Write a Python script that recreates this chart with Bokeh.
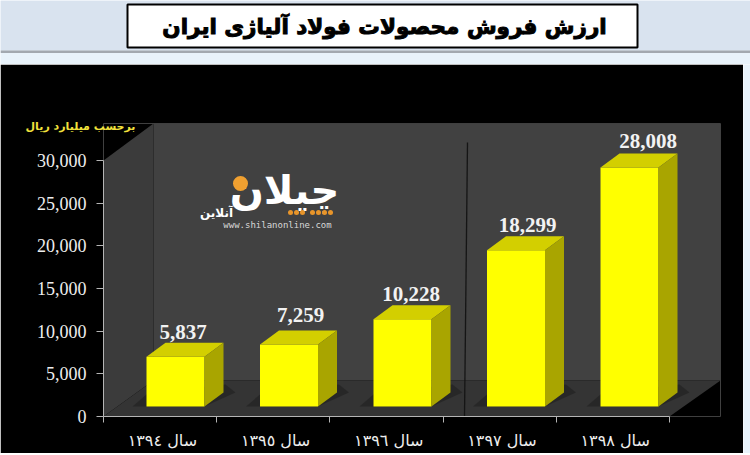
from bokeh.plotting import figure
from bokeh.layouts import column, row
from bokeh.embed import file_html
from bokeh.resources import INLINE
from bokeh.core.properties import value
from bokeh.models import Range1d, FixedTicker, NumeralTickFormatter, Label

title_text = "ارزش فروش محصولات فولاد آلیاژی ایران"
unit_text = "برحسب میلیارد ریال"
years = ["سال ١٣٩٤", "سال ١٣٩٥", "سال ١٣٩٦", "سال ١٣٩٧", "سال ١٣٩٨"]
sales = [5837, 7259, 10228, 18299, 28008]
y_ticks = [0, 5000, 10000, 15000, 20000, 25000, 30000]

PALE = "#e9f3fb"

# ---------- header ----------
h = figure(width=750, height=64, x_range=Range1d(0, 750), y_range=Range1d(64, 0),
           output_backend="svg", toolbar_location=None, min_border=0, frame_align=False,
           outline_line_color=None, background_fill_color=PALE, border_fill_color=PALE)
h.axis.visible = False
h.grid.visible = False
h.quad(left=0, right=750, top=0, bottom=50, color="#d9e3ef", line_color=None)
h.quad(left=0, right=750, top=50, bottom=52.5, color="#a3a9b0", line_color=None)
h.quad(left=127, right=637, top=4, bottom=47, fill_color="#ffffff", line_color="#000000", line_width=2)
h.text(x=[384], y=[26], text=[title_text], text_font=value("DejaVu Sans"), text_font_style="bold",
       text_font_size="21.5px", text_align="center", text_baseline="middle", text_color="#000000",
       text_outline_color="#000000")

# ---------- chart ----------
FL, FR, FT, FB = 103, 720, 123, 416   # frame edges in page pixels
UX = 113.2                            # px per category
UY = 256 / 30000                      # px per rial unit
def xd(px): return (px - FL) / UX
def yd(py): return (FB - py) / UY

p = figure(width=743, height=389, x_range=Range1d(0, (FR - FL) / UX), y_range=Range1d(0, (FB - FT) / UY),
           output_backend="svg", toolbar_location=None, frame_align=False,
           min_border_left=FL, min_border_right=743 - FR, min_border_top=FT - 64, min_border_bottom=453 - FB,
           background_fill_color="#000000", border_fill_color="#000000", outline_line_color=None)
p.grid.visible = False

# walls and floor
def poly(pts, color):
    p.patch([xd(a) for a, b in pts], [yd(b) for a, b in pts], color=color, line_color=None)
poly([(153, 123), (720, 123), (720, 380), (153, 380)], "#414141")
poly([(103, 416), (103, 160), (153, 123), (153, 380)], "#3b3b3b")
poly([(103, 416), (669, 416), (720, 380), (153, 380)], "#343434")

# axes
xa = p.xaxis[0]
xa.ticker = FixedTicker(ticks=[i + 0.52 for i in range(5)], minor_ticks=list(range(6)))
xa.major_label_overrides = {i + 0.52: years[i] for i in range(5)}
xa.major_tick_line_color = None
xa.minor_tick_in = 0
xa.minor_tick_out = 6
xa.minor_tick_line_color = "#b5b5b5"
xa.axis_line_color = "#b5b5b5"
xa.bounds = (0, 5)
xa.major_label_text_color = "#eeeeee"
xa.major_label_text_font = "DejaVu Sans"
xa.major_label_text_font_size = "16px"
xa.major_label_standoff = 8

ya = p.yaxis[0]
ya.ticker = FixedTicker(ticks=y_ticks)
ya.minor_tick_line_color = None
ya.formatter = NumeralTickFormatter(format="0,0")
ya.bounds = (0, 30000)
ya.major_tick_in = 0
ya.major_tick_out = 7
ya.major_tick_line_color = "#b5b5b5"
ya.axis_line_color = "#b5b5b5"
ya.major_label_text_color = "#eeeeee"
ya.major_label_text_font = "Liberation Serif"
ya.major_label_text_font_size = "18px"
ya.major_label_standoff = 10

# separator
p.line([xd(467), xd(464)], [yd(142), 0], line_color="#151515", line_width=1.3)

# bars (front, top, side, shadow)
BW = 58 / UX
LX = xd(146)
DX, DY = 19 / UX, 14 / UY
BASE = 10 / UY
for i, v in enumerate(sales):
    l = LX + i * 113.5 / UX
    r = l + BW
    t = BASE + v
    p.patch([l - 14 / UX, r, r + DX + 12 / UX, r + DX + 2 / UX, l + 0.02],
            [BASE, BASE, BASE + DY, BASE + DY + 8 / UY, BASE + DY],
            color="#262626", alpha=0.85, line_color=None)
    p.quad(left=l, right=r, bottom=BASE, top=t, color="#ffff00", line_color=None)
    p.patch([l, l + DX, r + DX, r], [t, t + DY, t + DY, t], color="#d3cf00", line_color=None)
    p.patch([r, r + DX, r + DX, r], [BASE, BASE + DY, t + DY, t], color="#a9a500", line_color=None)

# value labels, each nudged by a few pixels to where the reference puts it
NUDGE_X = [-2, 2, -1, 2, 9]
NUDGE_Y = [-1, 4, -1, -1, 0]
p.text(x=[LX + i * 113.5 / UX + BW / 2 + DX / 2 + NUDGE_X[i] / UX for i in range(5)],
       y=[BASE + v + DY + (12 + NUDGE_Y[i]) / UY for i, v in enumerate(sales)],
       text=[f"{v:,}" for v in sales], text_font=value("Liberation Serif"), text_font_style="bold",
       text_font_size="21px", text_color="#f2f2f2", text_align="center", text_baseline="middle")

# unit label
p.add_layout(Label(x=135 - FL, x_units="screen", y=yd(126), text=unit_text, text_font="DejaVu Sans",
                   text_font_style="bold", text_font_size="11px", text_color="#f2e23c",
                   text_align="right", text_baseline="middle"), "above")

# watermark
p.text(x=[xd(284)], y=[yd(189)], text=["چیلان"], text_font=value("DejaVu Sans"), text_font_style="bold",
       text_font_size="40px", text_color="#ffffff", text_align="center", text_baseline="middle")
p.scatter(x=[xd(240)], y=[yd(183)], size=15, color="#f0a030", line_color=None)
p.text(x=[xd(216)], y=[yd(212)], text=["آنلاین"], text_font=value("DejaVu Sans"), text_font_style="bold",
       text_font_size="12px", text_color="#ffffff", text_align="center", text_baseline="middle")
p.scatter(x=[xd(a) for a in (290, 296, 302, 312, 318, 324, 330)], y=[yd(212)] * 7, size=5,
          color="#e8952a", line_color=None)
p.text(x=[xd(277)], y=[yd(224)], text=["www.shilanonline.com"], text_font=value("DejaVu Sans Mono"),
       text_font_size="9px", text_color="#d8d8d8", text_align="center", text_baseline="middle")

# pale strip right of the black panel
s = figure(width=7, height=389, x_range=Range1d(0, 1), y_range=Range1d(0, 1), output_backend="svg",
           toolbar_location=None, min_border=0, frame_align=False, outline_line_color=None,
           background_fill_color=PALE, border_fill_color=PALE)
s.axis.visible = False
s.grid.visible = False

open("out.html", "w").write(file_html(column(h, row(p, s, spacing=0), spacing=0), INLINE))
